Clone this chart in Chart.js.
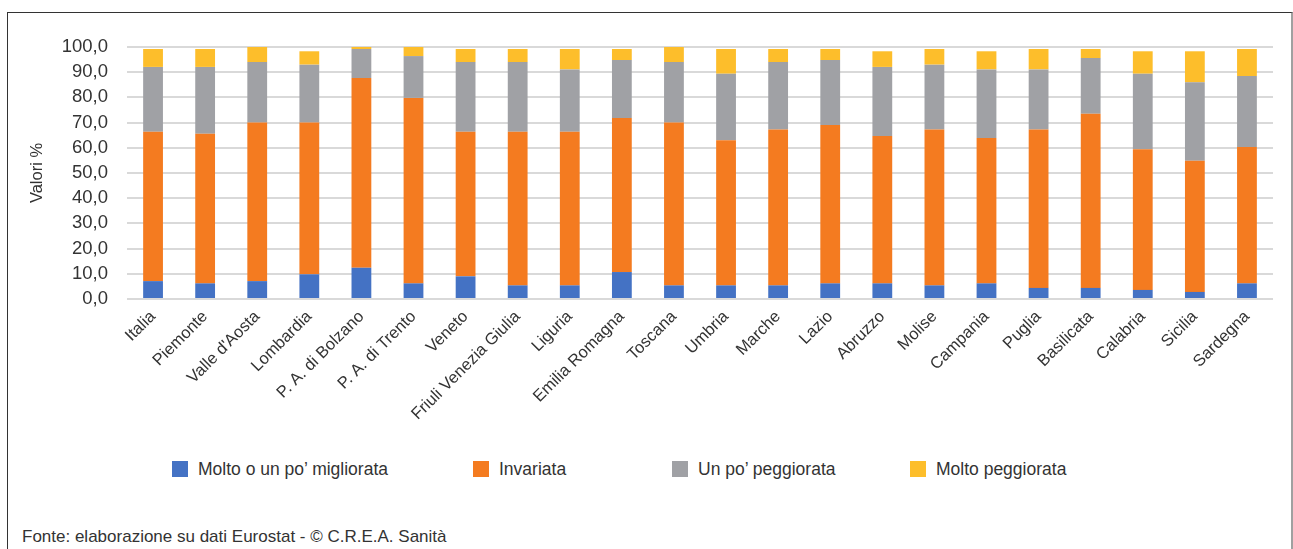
<!DOCTYPE html>
<html lang="it">
<head>
<meta charset="utf-8">
<title>Valori %</title>
<script src="https://cdn.jsdelivr.net/npm/chart.js@4.4.1/dist/chart.umd.min.js"></script>
<style>
  html, body { margin:0; padding:0; background:#fff; }
  body { width:1293px; height:549px; position:relative; overflow:hidden; font-family:'Liberation Sans',Arial,sans-serif; color:#333; }
  #frame { position:absolute; left:7px; top:12px; width:1283px; height:600px; border-top:1.5px solid #333; border-left:1.5px solid #333; border-right:2px solid #a0a0a0; }
  #wrap { position:absolute; left:0; top:0; width:1293px; height:440px; }
  #legend { position:absolute; left:0; top:458px; width:1293px; height:22px; font-size:17.5px; color:#333; }
  #legend .item { position:absolute; top:0; display:flex; align-items:center; height:22px; white-space:nowrap; }
  #legend .box { width:16px; height:16px; margin-right:10px; }
  #footer { position:absolute; left:22px; top:527px; font-size:17px; color:#333; }
</style>
</head>
<body>
<div id="frame"></div>
<div id="wrap"><canvas id="chart"></canvas></div>
<div id="legend"></div>
<div id="footer">Fonte: elaborazione su dati Eurostat - © C.R.E.A. Sanità</div>
<script>
(function(){
  const regioni = ['Italia','Piemonte',"Valle d'Aosta",'Lombardia','P. A. di Bolzano','P. A. di Trento','Veneto','Friuli Venezia Giulia','Liguria','Emilia Romagna','Toscana','Umbria','Marche','Lazio','Abruzzo','Molise','Campania','Puglia','Basilicata','Calabria','Sicilia','Sardegna'];

  const migliorata  = [7.1, 6.2, 7.1, 9.8, 12.4, 6.2, 9.0, 5.4, 5.4, 10.7, 5.4, 5.4, 5.4, 6.2, 6.2, 5.4, 6.2, 4.4, 4.4, 3.6, 2.8, 6.2];
  const invariata   = [59.3, 59.4, 62.9, 60.2, 75.3, 73.6, 57.4, 61.0, 61.0, 61.1, 64.6, 57.6, 61.9, 62.8, 58.5, 61.9, 57.7, 62.9, 69.1, 55.8, 52.1, 54.1];
  const unPoPegg    = [25.7, 26.5, 24.0, 23.0, 11.5, 16.6, 27.6, 27.6, 24.7, 23.0, 24.0, 26.4, 26.7, 25.8, 27.4, 25.7, 27.2, 23.8, 22.1, 30.0, 31.1, 28.2];
  const moltoPegg   = [7.1, 7.1, 6.0, 5.3, 0.8, 3.6, 5.2, 5.2, 8.1, 4.4, 6.0, 9.8, 5.2, 4.4, 6.2, 6.2, 7.2, 8.1, 3.6, 8.9, 12.3, 10.7];

  const yTicks = [0, 10, 20, 30, 40, 50, 60, 70, 80, 90, 100];

  const serie = [
    { label:'Molto o un po\u2019 migliorata', data:migliorata, color:'#4472c4' },
    { label:'Invariata', data:invariata, color:'#f47b20' },
    { label:'Un po\u2019 peggiorata', data:unPoPegg, color:'#a0a1a5' },
    { label:'Molto peggiorata', data:moltoPegg, color:'#fdbe2b' }
  ];
  // where each legend entry starts, like in the original layout
  const legendLeft = [172, 473, 672, 910];

  const FONT = "'Liberation Sans', Arial, sans-serif";

  function formatIt(v){ return Number(v).toFixed(1).replace('.', ','); }

  function renderLegend(){
    const el = document.getElementById('legend');
    el.innerHTML = serie.map((s, i) => `<div class="item" style="left:${legendLeft[i]}px"><span class="box" style="background:${s.color}"></span><span>${s.label}</span></div>`).join('');
  }

  function buildChart(){
    const ctx = document.getElementById('chart').getContext('2d');
    return new Chart(ctx, {
      type:'bar',
      data:{
        labels: regioni,
        datasets: serie.map(s => ({
          label: s.label,
          data: s.data,
          backgroundColor: s.color,
          borderWidth: 0,
          barPercentage: 0.38,
          categoryPercentage: 1
        }))
      },
      options:{
        responsive:true,
        maintainAspectRatio:false,
        animation:false,
        layout:{ padding:{ left:15, right:20, top:47, bottom:0 } },
        plugins:{ legend:{ display:false }, tooltip:{ enabled:false } },
        scales:{
          x:{
            stacked:true,
            grid:{ display:false, drawTicks:false },
            border:{ display:false },
            ticks:{ color:'#333', font:{ family:FONT, size:16.5 }, maxRotation:45, minRotation:45, padding:8, autoSkip:false },
            afterFit: sc => { sc.height = 141; }
          },
          y:{
            stacked:true,
            min:0, max:100,
            afterBuildTicks: sc => { sc.ticks = yTicks.map(v => ({ value:v })); },
            grid:{ color:'#d9d9d9', lineWidth:2, drawTicks:false },
            border:{ display:false },
            ticks:{ color:'#333', font:{ family:FONT, size:18.5 }, padding:19, autoSkip:false, callback: v => formatIt(v) },
            title:{ display:true, text:'Valori %', color:'#333', font:{ family:FONT, size:16.5 }, padding:{ top:13, bottom:0 } },
            afterFit: sc => { sc.width = 112; }
          }
        }
      }
    });
  }

  renderLegend();
  buildChart();
})();
</script>
</body>
</html>
